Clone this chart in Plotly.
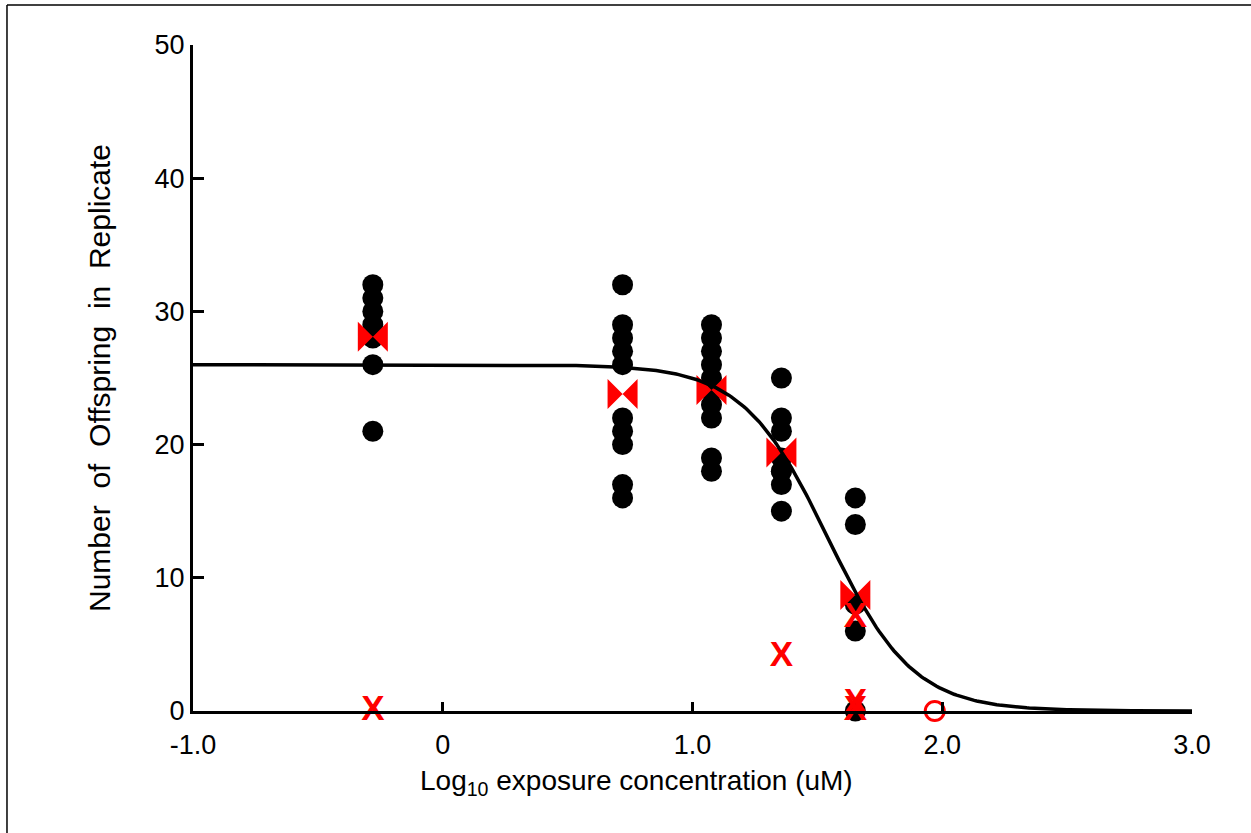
import numpy as np
import plotly.graph_objects as go

# Log10 exposure concentration (uM) of each treatment group
group_x = [-0.28, 0.72, 1.076, 1.356, 1.652]

# Offspring counts per replicate, one list per treatment group
replicates = [
    [32, 31, 30, 29, 28, 26, 21],
    [32, 29, 28, 27, 26, 22, 21, 20, 17, 16],
    [29, 28, 27, 26, 25, 24, 23, 22, 19, 18],
    [25, 22, 21, 19, 18, 18, 17, 15],
    [16, 14, 8, 6, 0],
]

# Group means
group_mean = [28.1, 23.8, 24.1, 19.4, 8.7]

# Replicates flagged with an X
flag_x = [-0.28, 1.356, 1.652, 1.652, 1.652]
flag_y = [0, 4, 7, 0, 0.5]

# Open circle point
open_x = [1.97]
open_y = [0]

# Fitted concentration-response curve (log-logistic)
fit_top = 26.0
fit_log_ec50 = 1.542
fit_hill = 2.56

FONT = "Liberation Sans Narrow, Arial Narrow, Liberation Sans, Arial, sans-serif"

dot_x = [gx for gx, vals in zip(group_x, replicates) for _ in vals]
dot_y = [v for vals in replicates for v in vals]

curve_x = np.linspace(-1.0, 3.0, 400)
curve_y = fit_top / (1.0 + 10 ** (fit_hill * (curve_x - fit_log_ec50)))

fig = go.Figure()

fig.add_trace(go.Scatter(
    x=dot_x, y=dot_y, mode="markers",
    marker=dict(symbol="circle", size=21, color="black", line=dict(width=0)),
    cliponaxis=False, showlegend=False,
))

fig.add_trace(go.Scatter(
    x=group_x, y=group_mean, mode="markers",
    marker=dict(symbol="bowtie", size=30, color="#ff0000", line=dict(width=0)),
    cliponaxis=False, showlegend=False,
))

fig.add_trace(go.Scatter(
    x=curve_x, y=curve_y, mode="lines",
    line=dict(color="black", width=3.5),
    cliponaxis=False, showlegend=False,
))

fig.add_trace(go.Scatter(
    x=flag_x, y=flag_y, mode="text", text=["<b>X</b>"] * len(flag_x),
    textposition="middle center",
    textfont=dict(family=FONT, size=35, color="#ff0000"),
    cliponaxis=False, showlegend=False,
))

fig.add_trace(go.Scatter(
    x=open_x, y=open_y, mode="markers",
    marker=dict(symbol="circle-open", size=19, color="#ff0000", line=dict(width=3, color="#ff0000")),
    cliponaxis=False, showlegend=False,
))

axis_common = dict(
    showline=True, linecolor="black", linewidth=3, mirror=False,
    ticks="inside", tickcolor="black", tickwidth=2.5,
    showgrid=False, zeroline=False,
    tickfont=dict(family=FONT, size=27, color="black"),
)

fig.update_xaxes(
    range=[-1.0, 3.0],
    tickvals=[-1, 0, 1, 2, 3],
    ticktext=["-1.0", "0", "1.0", "2.0", "3.0"],
    ticklen=9,
    ticklabelstandoff=8,
    **axis_common,
)
fig.update_yaxes(
    range=[0, 50],
    tickvals=[0, 10, 20, 30, 40, 50],
    ticklen=11,
    title=dict(text="Number  of  Offspring  in  Replicate",
               font=dict(family=FONT, size=30, color="black"), standoff=36),
    **axis_common,
)

# X-axis title, placed slightly left of the plot centre
fig.add_annotation(
    text="Log<sub>10</sub> exposure concentration (uM)",
    xref="paper", yref="paper", x=0.444, y=-0.108,
    xanchor="center", yanchor="middle", showarrow=False,
    font=dict(family=FONT, size=28, color="black"),
)

# Outer frame edges
fig.add_shape(type="line", xref="paper", yref="paper",
              x0=-0.1862, x1=1.06, y0=1.06, y1=1.06,
              line=dict(color="black", width=1.5))
fig.add_shape(type="line", xref="paper", yref="paper",
              x0=-0.1862, x1=-0.1862, y0=-0.19, y1=1.06,
              line=dict(color="black", width=1.5))

fig.update_layout(
    width=1251, height=833,
    margin=dict(l=193, r=59, t=45, b=122),
    paper_bgcolor="white", plot_bgcolor="white",
    font=dict(family=FONT, color="black"),
)

fig.write_html("out.html")
